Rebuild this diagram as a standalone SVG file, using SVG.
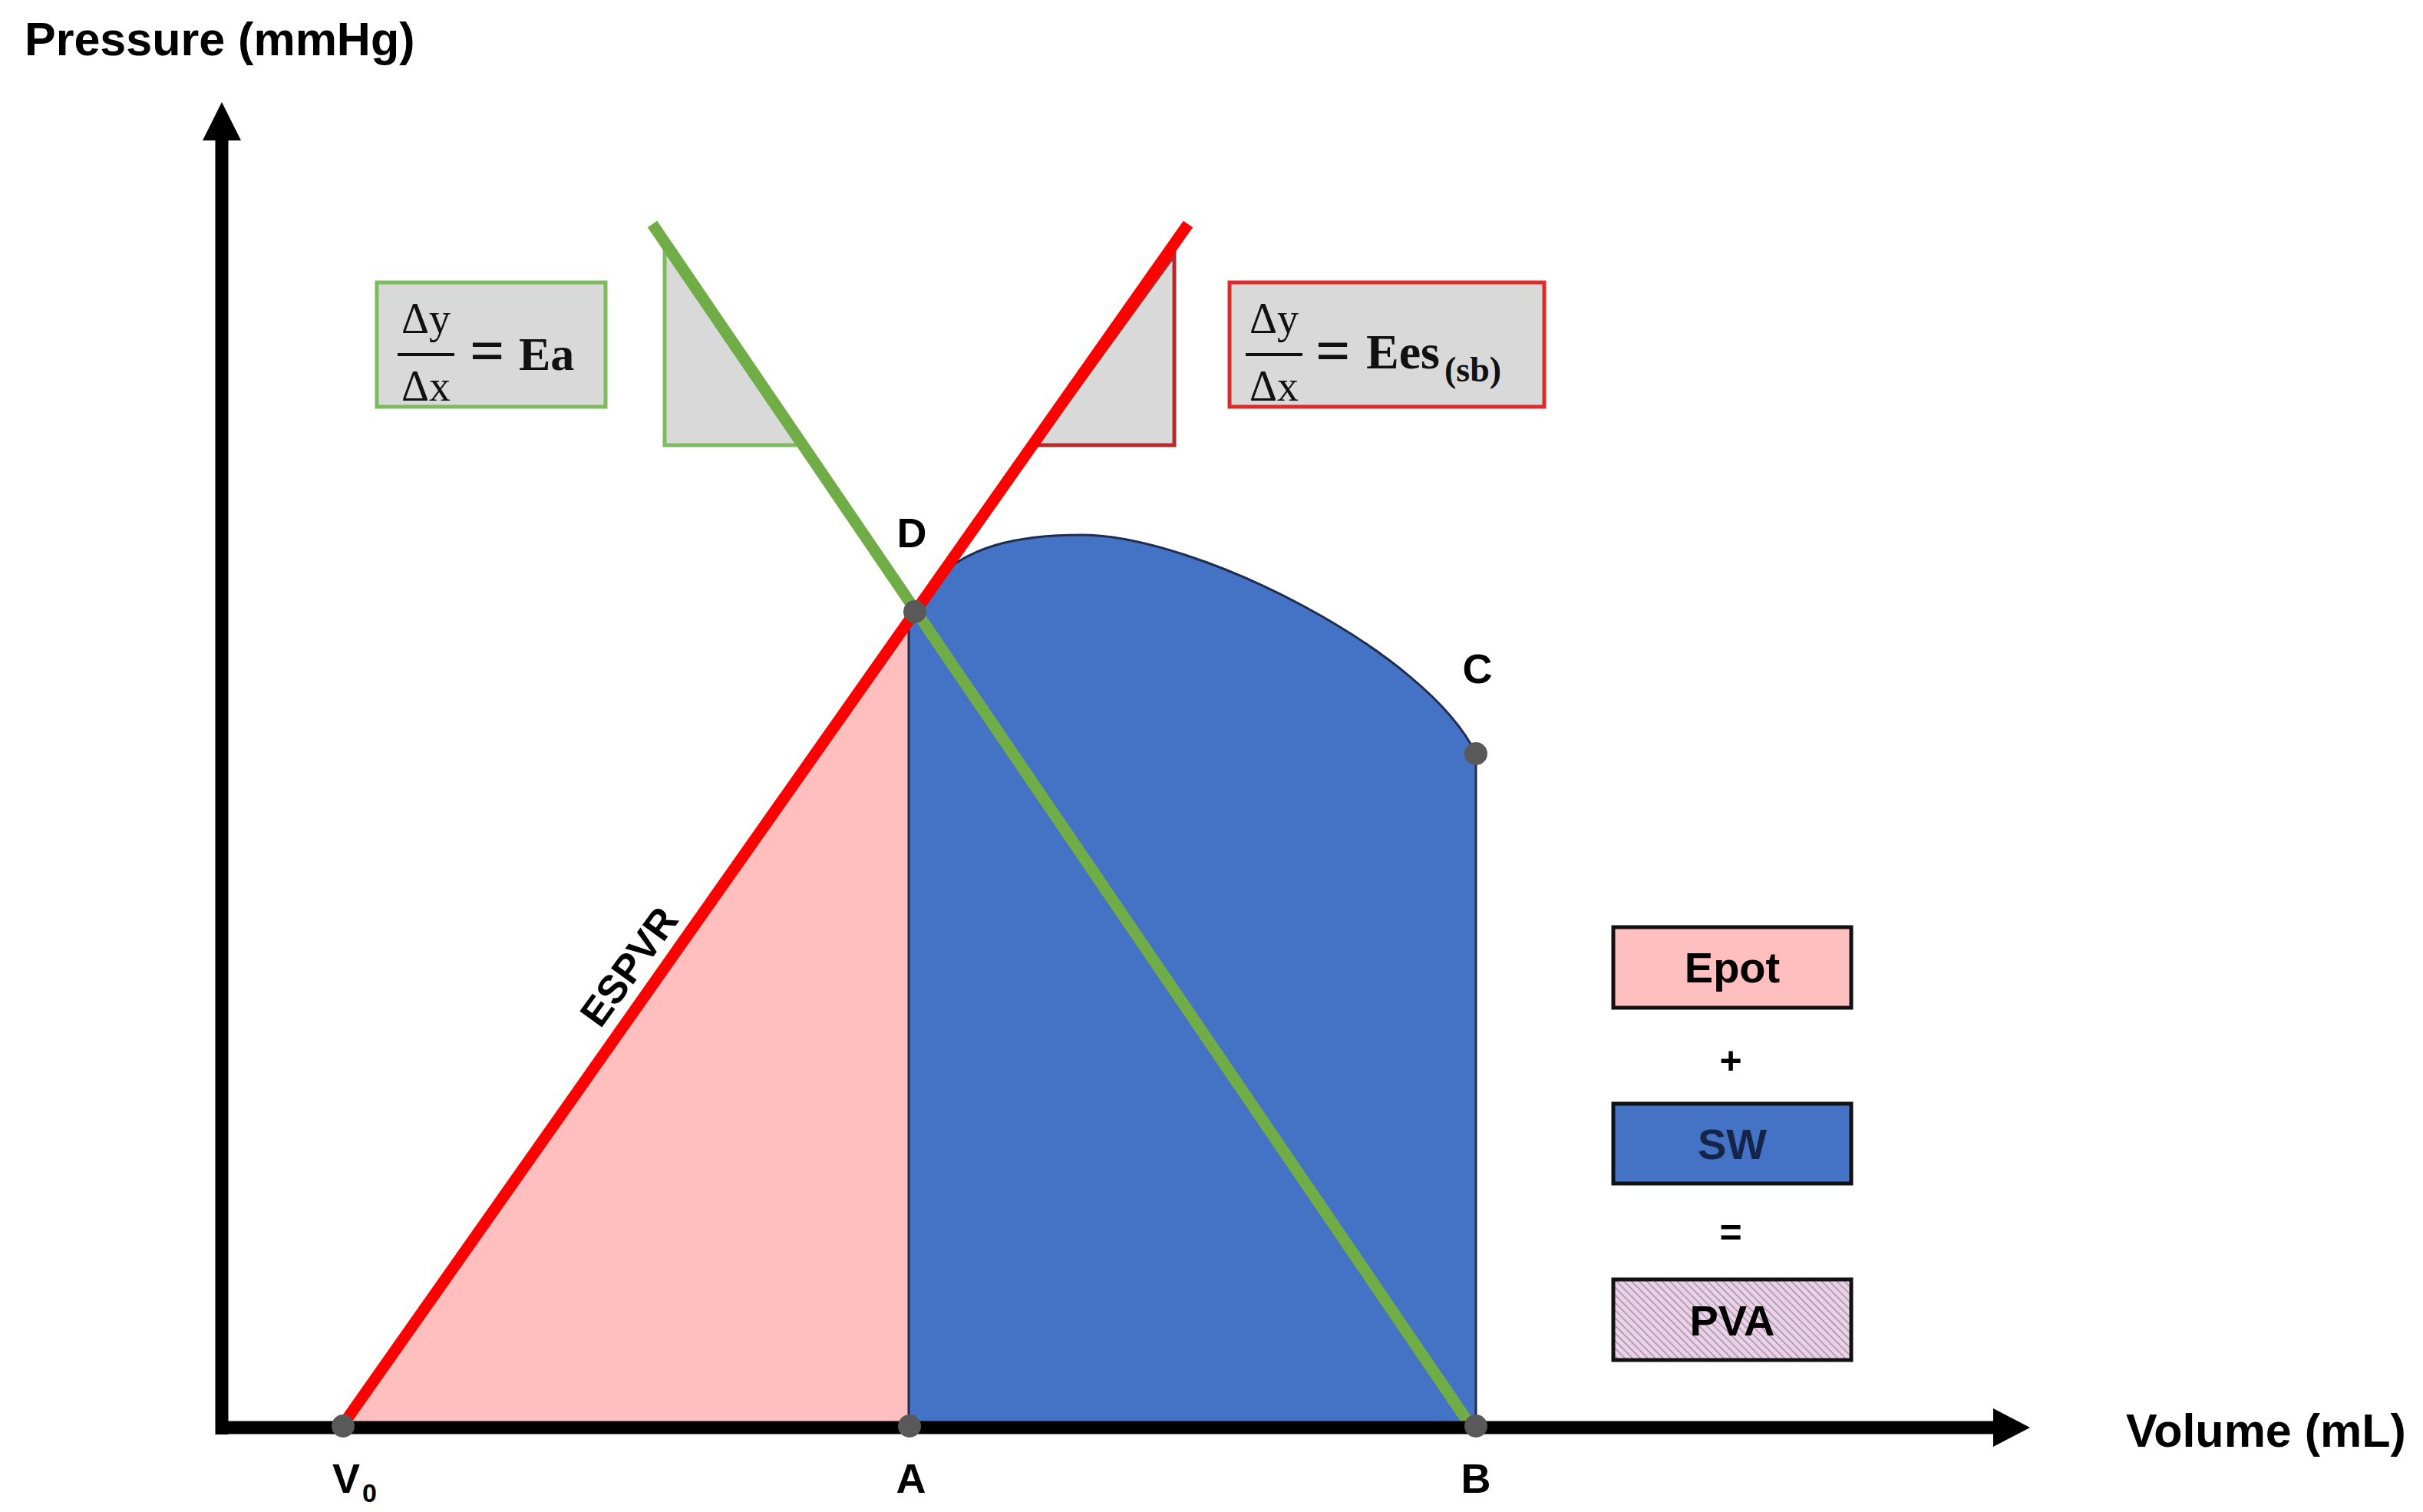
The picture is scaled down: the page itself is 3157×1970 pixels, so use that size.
<svg xmlns="http://www.w3.org/2000/svg" width="3157" height="1970" viewBox="0 0 3157 1970">
<style>
.lbl{font-family:"Liberation Sans",Arial,sans-serif;font-weight:bold;fill:#000}
.math{font-family:"Liberation Serif","Times New Roman",serif;fill:#111}
.mb{font-family:"Liberation Serif","Times New Roman",serif;font-weight:bold;fill:#111}
.dot{fill:#595959}
.leg{stroke:#111;stroke-width:5}
</style>
<defs>
<pattern id="hatch" width="7" height="7" patternUnits="userSpaceOnUse" patternTransform="rotate(-45)">
<rect width="7" height="7" fill="#e9d3e6"/>
<line x1="0" y1="0" x2="0" y2="7" stroke="#a98aa8" stroke-width="3"/>
</pattern>
</defs>
<rect width="3157" height="1970" fill="#fff"/>

<g id="areas">
<polygon id="epot-area" points="447,1860 1192,797 1184,1860" fill="#ffbfbf"/>
<path id="sw-area" d="M1192,797 L1222,752 C1262,714 1320,697 1409,697 C1560,697 1860,850 1923,982 L1923,1860 L1184,1860 L1184,808 Z" fill="#4472c4" stroke="#1f2d50" stroke-width="3"/>
</g>

<g id="slope-triangles">
<polygon id="ea-tri" points="866,325 866,580 1040,580" fill="#d9d9d9" stroke="#7dbb5e" stroke-width="5"/>
<polygon id="ees-tri" points="1530,332 1530,580 1350,580" fill="#d9d9d9" stroke="#b82a2a" stroke-width="5"/>
</g>

<g id="connectors">
<line id="espvr" x1="447" y1="1856" x2="1548" y2="292" stroke="#ff0000" stroke-width="15"/>
<line id="ea-line" x1="850" y1="292" x2="1915" y2="1856" stroke="#70ad47" stroke-width="15"/>
<line id="y-axis" x1="289" y1="1869" x2="289" y2="178" stroke="#000" stroke-width="17"/>
<polygon points="289,133 264,183 314,183" fill="#000"/>
<line id="x-axis" x1="281" y1="1860" x2="2600" y2="1860" stroke="#000" stroke-width="17"/>
<polygon points="2645,1860 2597,1835 2597,1885" fill="#000"/>
</g>

<g id="points">
<circle id="pt-v0" class="dot" cx="447" cy="1858" r="15"/>
<circle id="pt-a" class="dot" cx="1185" cy="1858" r="15"/>
<circle id="pt-b" class="dot" cx="1923" cy="1858" r="15"/>
<circle id="pt-c" class="dot" cx="1923" cy="982" r="15"/>
<circle id="pt-d" class="dot" cx="1192" cy="797" r="15"/>
</g>

<g id="axis-labels">
<text class="lbl" x="32" y="72" font-size="61">Pressure (mmHg)</text>
<text class="lbl" x="2770" y="1885" font-size="61">Volume (mL)</text>
</g>

<g id="point-labels">
<text class="lbl" x="451" y="1945" font-size="54" text-anchor="middle">V</text>
<text class="lbl" x="472" y="1957" font-size="34">0</text>
<text class="lbl" x="1187" y="1945" font-size="54" text-anchor="middle">A</text>
<text class="lbl" x="1923" y="1945" font-size="54" text-anchor="middle">B</text>
<text class="lbl" x="1925" y="890" font-size="54" text-anchor="middle">C</text>
<text class="lbl" x="1188" y="713" font-size="54" text-anchor="middle">D</text>
<text class="lbl" x="0" y="0" font-size="52" text-anchor="middle" transform="translate(834,1270) rotate(-54)">ESPVR</text>
</g>

<g id="ea-box">
<rect x="491" y="368" width="298" height="162" fill="#d9d9d9" stroke="#7dbb5e" stroke-width="5"/>
<text class="math" x="555" y="434" font-size="56" text-anchor="middle">Δy</text>
<line x1="518" y1="462" x2="592" y2="462" stroke="#111" stroke-width="4"/>
<text class="math" x="555" y="522" font-size="56" text-anchor="middle">Δx</text>
<text class="mb" x="612" y="484" font-size="80">=</text>
<text class="mb" x="676" y="482" font-size="62">Ea</text>
</g>

<g id="ees-box">
<rect x="1602" y="368" width="410" height="162" fill="#d9d9d9" stroke="#e02a2a" stroke-width="5"/>
<text class="math" x="1660" y="434" font-size="56" text-anchor="middle">Δy</text>
<line x1="1623" y1="462" x2="1697" y2="462" stroke="#111" stroke-width="4"/>
<text class="math" x="1660" y="522" font-size="56" text-anchor="middle">Δx</text>
<text class="mb" x="1714" y="484" font-size="80">=</text>
<text class="mb" x="1780" y="480" font-size="64">Ees</text>
<text class="mb" x="1882" y="497" font-size="46">(sb)</text>
</g>

<g id="legend-epot">
<rect class="leg" x="2102" y="1208" width="310" height="105" fill="#ffbfbf"/>
<text class="lbl" x="2257" y="1280" font-size="56" text-anchor="middle">Epot</text>
</g>
<g id="legend-plus">
<text class="lbl" x="2255" y="1399" font-size="50" text-anchor="middle">+</text>
</g>
<g id="legend-sw">
<rect class="leg" x="2102" y="1438" width="310" height="104" fill="#4472c4"/>
<text class="lbl" x="2257" y="1510" font-size="56" text-anchor="middle" style="fill:#15254a">SW</text>
</g>
<g id="legend-eq">
<text class="lbl" x="2255" y="1623" font-size="50" text-anchor="middle">=</text>
</g>
<g id="legend-pva">
<rect class="leg" x="2102" y="1667" width="310" height="105" fill="url(#hatch)"/>
<text class="lbl" x="2257" y="1740" font-size="56" text-anchor="middle">PVA</text>
</g>
</svg>
